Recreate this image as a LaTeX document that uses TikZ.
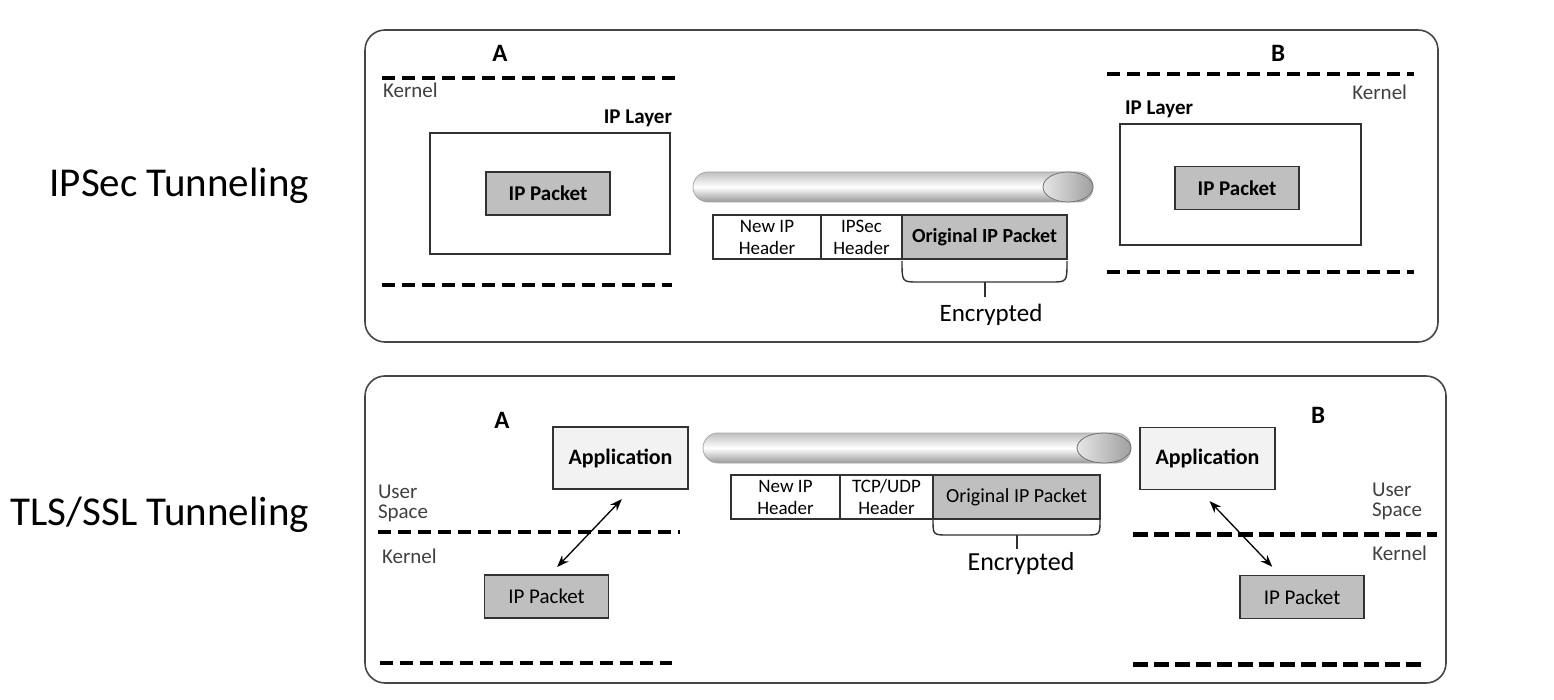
\documentclass[tikz,border=0pt]{standalone}
\usepackage{fontspec}
\setmainfont{Carlito}
\usetikzlibrary{arrows.meta,positioning}

\newcommand{\fsz}[2]{\fontsize{#1}{#2}\selectfont}

\begin{document}
\begin{tikzpicture}[x=1pt, y=-1pt,
  every node/.style={inner sep=0pt, outer sep=0pt},
  panel/.style={draw=framegray, line width=1.6pt, rounded corners=20pt},
  kdash/.style={line width=4pt, dash pattern=on 13pt off 7pt},
  kdashbold/.style={line width=5pt, dash pattern=on 15pt off 6pt},
  layerbox/.style={draw=boxgray, line width=1.5pt, fill=white},
  pktbox/.style={draw=boxgray, line width=1.5pt, fill=pktfill, minimum width=124pt, minimum height=43pt, font=\fsz{21}{24}},
  appbox/.style={draw=boxgray, line width=1.5pt, fill=appfill, minimum width=135pt, minimum height=62pt, font=\fsz{22}{24}\bfseries},
  hdrbox/.style={draw=boxgray, line width=1.5pt, fill=white, minimum height=44pt, align=center, font=\fsz{19}{22}, anchor=west},
  tube/.style={draw=gray!70, line width=0.8pt, top color=gray!50, bottom color=gray!80, middle color=white, rounded corners=15pt},
  tubeend/.style={draw=gray!90!black, line width=0.8pt, left color=gray!20, right color=gray!75},
  brace/.style={draw=boxgray, line width=1.4pt},
  dblarrow/.style={{Stealth[length=12pt,width=9pt]}-{Stealth[length=12pt,width=9pt]}, line width=1.3pt},
  small/.style={font=\fsz{21}{20}, text=kerngray}]
\definecolor{framegray}{RGB}{70,70,70}
\definecolor{boxgray}{RGB}{50,50,50}
\definecolor{pktfill}{RGB}{191,191,191}
\definecolor{appfill}{RGB}{242,242,242}
\definecolor{kerngray}{RGB}{64,64,64}
\useasboundingbox (0,0) rectangle (1554,700);
% Panels
\draw[panel] (365,30) rectangle (1438,342);
\draw[panel] (365,376) rectangle (1446,683);
% Row labels
\node[font=\fsz{41}{48}, anchor=base east] (ipsecLbl) at (309,197) {IPSec Tunneling};
\node[font=\fsz{41}{48}, anchor=base east] (tlsLbl) at (309,525) {TLS/SSL Tunneling};
% Kernel boundaries
\foreach \xa/\xb/\yy in {382/682/78, 382/672/285, 1107/1414/74, 1107/1414/272, 378/680/532, 380/672/663}
  \draw[kdash] (\xa,\yy) -- (\xb,\yy);
\foreach \xa/\xb/\yy in {1133/1437/534, 1133/1426/664}
  \draw[kdashbold] (\xa,\yy) -- (\xb,\yy);
% Tunnels
\foreach \xa/\xb/\yc/\rx in {693/1093/187/25, 703/1131/448/27} {
  \shade[tube] (\xa,\yc-15) rectangle (\xb,\yc+15);
  \shadedraw[tubeend] (\xb-\rx,\yc) ellipse [x radius=\rx pt, y radius=15pt];
}
% ---- IPSec tunneling ----
\node[font=\fsz{25}{28}\bfseries, anchor=base] (hostA) at (500,62) {A};
\node[font=\fsz{25}{28}\bfseries, anchor=base] (hostB) at (1278,62) {B};
\node[small, anchor=base west] (kernA) at (383,98) {Kernel};
\node[small, anchor=base east] (kernB) at (1407,100) {Kernel};
\node[font=\fsz{21}{24}\bfseries, anchor=base east] (layerLblA) at (672,124) {IP Layer};
\node[font=\fsz{21}{24}\bfseries, anchor=base west] (layerLblB) at (1125,115) {IP Layer};
\node[layerbox, minimum width=240pt, minimum height=121pt] (layerA) at (550,193.5) {};
\node[layerbox, minimum width=241pt, minimum height=121pt] (layerB) at (1240.5,184.5) {};
\node[pktbox, font=\fsz{21}{24}\bfseries] (pktA) at (548,193.5) {IP Packet};
\node[pktbox, font=\fsz{21}{24}\bfseries] (pktB) at (1237,188) {IP Packet};
% Encapsulated packet
\node[hdrbox, minimum width=108pt] (newT) at (713,237) {New IP\\Header};
\node[hdrbox, minimum width=81pt] (ipsecT) at (newT.east) {IPSec\\Header};
\node[hdrbox, minimum width=165pt, fill=pktfill, font=\fsz{20}{22}\bfseries] (origT) at (ipsecT.east) {Original IP Packet};
\draw[brace] (902,261) .. controls (902,282) .. (918,282) -- (1051,282) .. controls (1067,282) .. (1067,261);
\draw[brace] (985,282) -- (985,297);
\node[font=\fsz{25}{28}, anchor=base] (encT) at (991,322) {Encrypted};
% ---- TLS/SSL tunneling ----
\node[font=\fsz{25}{28}\bfseries, anchor=base] (hostA2) at (502,428) {A};
\node[font=\fsz{25}{28}\bfseries, anchor=base] (hostB2) at (1318,423) {B};
\node[small, align=left, anchor=base west] (userA) at (378,518) {User\\Space};
\node[small, align=left, anchor=base west] (userB) at (1372,516) {User\\Space};
\node[small, anchor=base west] (kernA2) at (382,563) {Kernel};
\node[small, anchor=base east] (kernB2) at (1427,560) {Kernel};
\node[appbox] (appA) at (620.5,458) {Application};
\node[appbox] (appB) at (1207.5,458.5) {Application};
\node[pktbox] (pktA2) at (546.5,596.5) {IP Packet};
\node[pktbox] (pktB2) at (1302,597) {IP Packet};
\draw[dblarrow, shorten <=14pt, shorten >=11pt] ([xshift=11pt]appA.south) -- ([xshift=3pt]pktA2.north);
\draw[dblarrow, shorten <=16pt, shorten >=12pt] ([xshift=-9pt]appB.south) -- ([xshift=-21.5pt]pktB2.north);
% Encapsulated packet
\node[hdrbox, minimum width=109pt] (newS) at (731,497) {New IP\\Header};
\node[hdrbox, minimum width=93pt] (tcpS) at (newS.east) {TCP/UDP\\Header};
\node[hdrbox, minimum width=167pt, fill=pktfill, font=\fsz{20}{22}] (origS) at (tcpS.east) {Original IP Packet};
\draw[brace] (933,519) .. controls (933,535) .. (948,535) -- (1085,535) .. controls (1100,535) .. (1100,519);
\draw[brace] (1017,535) -- (1017,549);
\node[font=\fsz{26}{28}, anchor=base] (encS) at (1021,570) {Encrypted};
\end{tikzpicture}
\end{document}
